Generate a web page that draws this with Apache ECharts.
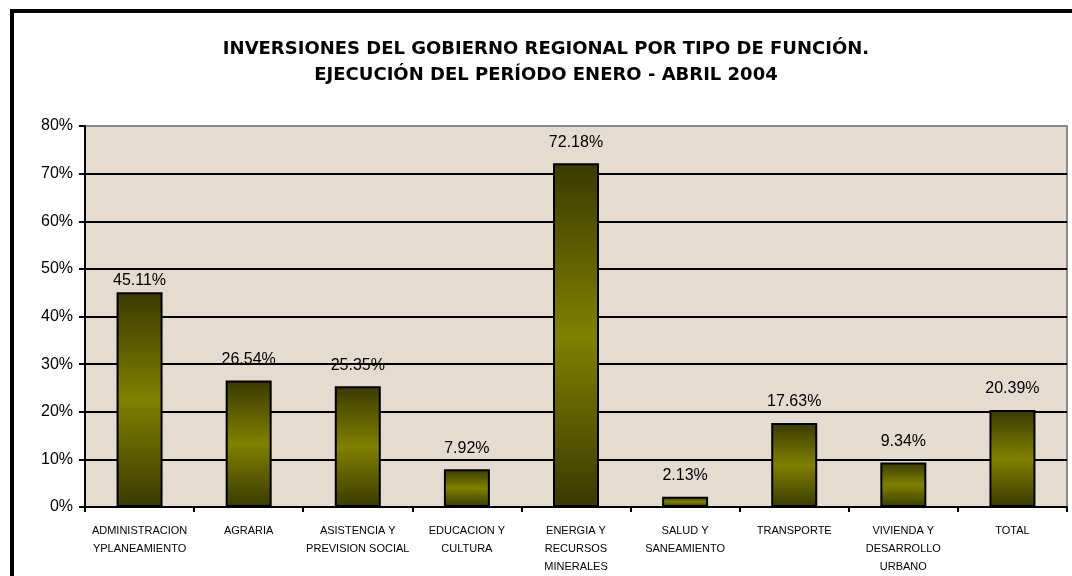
<!DOCTYPE html>
<html>
<head>
<meta charset="utf-8">
<script src="https://cdn.jsdelivr.net/npm/echarts@6/dist/echarts.min.js"></script>
<style>
  html, body { margin: 0; padding: 0; background: #fff; overflow: hidden; }
  #frame { position: absolute; left: 10px; top: 9px; width: 1100px; height: 700px; border: 4px solid #000; }
  #main { position: absolute; left: 0; top: 0; width: 1072px; height: 576px; }
</style>
</head>
<body>
<div id="frame"></div>
<div id="main"></div>
<script>
// categorias y valores (%)
var categorias = [
  "ADMINISTRACION\nYPLANEAMIENTO",
  "AGRARIA",
  "ASISTENCIA Y\nPREVISION SOCIAL",
  "EDUCACION Y\nCULTURA",
  "ENERGIA Y\nRECURSOS\nMINERALES",
  "SALUD Y\nSANEAMIENTO",
  "TRANSPORTE",
  "VIVIENDA Y\nDESARROLLO\nURBANO",
  "TOTAL"
];
var valores = [45.11, 26.54, 25.35, 7.92, 72.18, 2.13, 17.63, 9.34, 20.39];
var ejeY = [0, 10, 20, 30, 40, 50, 60, 70, 80];

var myChart = echarts.init(document.getElementById("main"));

var barColor = new echarts.graphic.LinearGradient(0, 0, 0, 1, [
  { offset: 0, color: "#3a3a00" },
  { offset: 0.5, color: "#808000" },
  { offset: 1, color: "#3a3a00" }
]);

// la primera etiqueta queda mas pegada a su barra en el original
var datos = valores.map(function (v, i) {
  return i === 0 ? { value: v, label: { distance: 4 } } : v;
});

var option = {
  animation: false,
  textStyle: { fontFamily: "Liberation Sans, Arial, sans-serif" },
  title: {
    text: "INVERSIONES DEL GOBIERNO REGIONAL POR TIPO DE FUNCIÓN.\nEJECUCIÓN DEL PERÍODO ENERO - ABRIL 2004",
    left: 541,
    textAlign: "center",
    top: 31,
    textStyle: {
      fontFamily: "DejaVu Sans",
      fontSize: 18,
      fontWeight: "bold",
      color: "#000",
      lineHeight: 26
    }
  },
  grid: {
    left: 85,
    right: 5,
    top: 126,
    bottom: 66,
    show: true,
    backgroundColor: "#e4dcd1",
    borderColor: "#8a8a8a",
    borderWidth: 2
  },
  xAxis: {
    type: "category",
    data: categorias,
    axisLine: { lineStyle: { color: "#000", width: 2 } },
    axisTick: { show: true, length: 5, lineStyle: { color: "#000", width: 2 } },
    axisLabel: {
      interval: 0,
      color: "#000",
      fontSize: 11,
      lineHeight: 18,
      margin: 15
    }
  },
  yAxis: {
    type: "value",
    min: ejeY[0],
    max: ejeY[ejeY.length - 1],
    interval: 10,
    axisLine: { show: true, lineStyle: { color: "#000", width: 2 } },
    axisTick: { show: true, length: 6, lineStyle: { color: "#000", width: 2 } },
    axisLabel: {
      color: "#000",
      fontSize: 16,
      margin: 12,
      formatter: function (v) { return v + "%"; }
    },
    splitLine: {
      show: true,
      showMaxLine: false,
      lineStyle: { color: "#000", width: 2 }
    }
  },
  series: [
    {
      type: "bar",
      data: datos,
      barWidth: 46,
      itemStyle: {
        color: barColor,
        borderColor: "#000",
        borderWidth: 2
      },
      label: {
        show: true,
        position: "top",
        distance: 13,
        color: "#000",
        fontSize: 16,
        formatter: function (p) { return p.value.toFixed(2) + "%"; }
      }
    }
  ]
};

myChart.setOption(option);
</script>
</body>
</html>
